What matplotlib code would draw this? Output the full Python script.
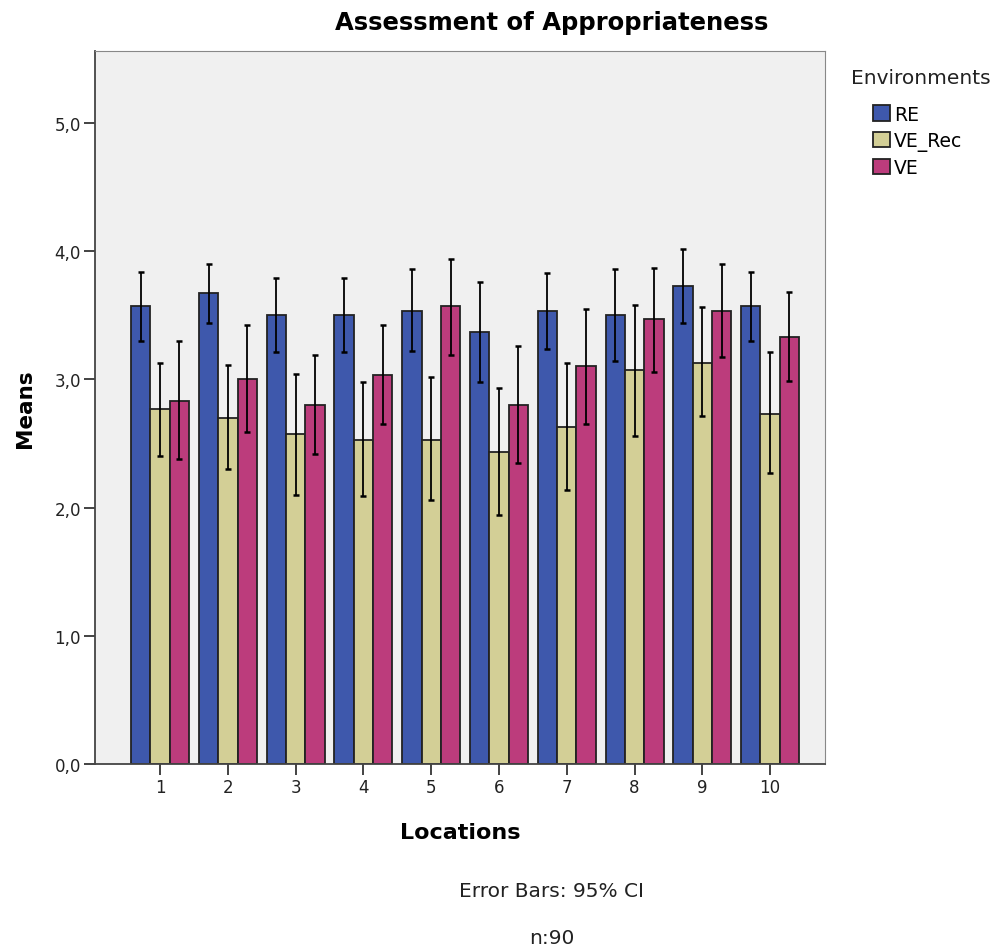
import numpy as np
import matplotlib
matplotlib.use("Agg")
import matplotlib.pyplot as plt

plt.rcParams['font.family'] = ['DejaVu Sans']

locations = [1, 2, 3, 4, 5, 6, 7, 8, 9, 10]
series = ['RE', 'VE_Rec', 'VE']

re_mean = [3.57, 3.67, 3.50, 3.50, 3.53, 3.37, 3.53, 3.50, 3.73, 3.57]
re_lo = [3.30, 3.44, 3.21, 3.21, 3.22, 2.98, 3.24, 3.14, 3.44, 3.30]
re_hi = [3.84, 3.90, 3.79, 3.79, 3.86, 3.76, 3.83, 3.86, 4.02, 3.84]

rec_mean = [2.77, 2.70, 2.57, 2.53, 2.53, 2.43, 2.63, 3.07, 3.13, 2.73]
rec_lo = [2.40, 2.30, 2.10, 2.09, 2.06, 1.94, 2.14, 2.56, 2.71, 2.27]
rec_hi = [3.13, 3.11, 3.04, 2.98, 3.02, 2.93, 3.13, 3.58, 3.56, 3.21]

ve_mean = [2.83, 3.00, 2.80, 3.03, 3.57, 2.80, 3.10, 3.47, 3.53, 3.33]
ve_lo = [2.38, 2.59, 2.42, 2.65, 3.19, 2.35, 2.65, 3.06, 3.17, 2.99]
ve_hi = [3.30, 3.42, 3.19, 3.42, 3.94, 3.26, 3.55, 3.87, 3.90, 3.68]

colors = ['#3e58ac', '#d3cf96', '#bc3c7c']

fig = plt.figure(figsize=(9.98, 9.53), dpi=100)
ax = fig.add_axes([0.0952, 0.1973, 0.7315, 0.7481])
ax.set_facecolor('#f0f0f0')

x = np.array(locations, dtype=float)
w = 0.285
data = [(re_mean, re_lo, re_hi), (rec_mean, rec_lo, rec_hi), (ve_mean, ve_lo, ve_hi)]
for i, (m, lo, hi) in enumerate(data):
    m = np.array(m); lo = np.array(lo); hi = np.array(hi)
    xs = x + (i - 1) * w
    ax.bar(xs, m, width=w, color=colors[i], edgecolor='#222222', linewidth=1.3,
           label=series[i], zorder=2)
    ax.errorbar(xs, m, yerr=[m - lo, hi - m], fmt='none', ecolor='black',
                elinewidth=1.3, capsize=2, capthick=1.8, zorder=3)

ax.set_xlim(0.04, 10.81)
ax.set_ylim(0, 5.56)
ax.set_xticks(locations)
ax.set_xticklabels([str(v) for v in locations])
ax.set_yticks([0, 1, 2, 3, 4, 5])
ax.set_yticklabels(['0,0', '1,0', '2,0', '3,0', '4,0', '5,0'])
ax.tick_params(axis='both', labelsize=12, colors='#222222', length=8, width=1.2, pad=2)
for s in ['top', 'right']:
    ax.spines[s].set_color('#888888')
for s in ['left', 'bottom']:
    ax.spines[s].set_color('#444444')
    ax.spines[s].set_linewidth(1.3)

ax.set_ylabel('Means', fontsize=15.5, fontweight='bold')
ax.yaxis.set_label_coords(-0.082, 0.5)
ax.set_xlabel('Locations', fontsize=16, fontweight='bold')
ax.xaxis.set_label_coords(0.5, -0.081)

fig.text(0.553, 0.976, 'Assessment of Appropriateness', ha='center', va='center',
         fontsize=17.5, fontweight='bold')
fig.text(0.553, 0.065, 'Error Bars: 95% CI', ha='center', va='center', fontsize=14.5,
         color='#222222')
fig.text(0.553, 0.015, 'n:90', ha='center', va='center', fontsize=14.5, color='#222222')

fig.text(0.853, 0.918, 'Environments', ha='left', va='center', fontsize=14.5,
         color='#222222')
leg = fig.legend(loc='upper left', bbox_to_anchor=(0.8747, 0.889), frameon=False,
                 fontsize=13.5, handlelength=0.92, handleheight=0.92, handletextpad=0.22,
                 labelspacing=0.38, borderaxespad=0, borderpad=0)

fig.savefig('out.png', dpi=100)
